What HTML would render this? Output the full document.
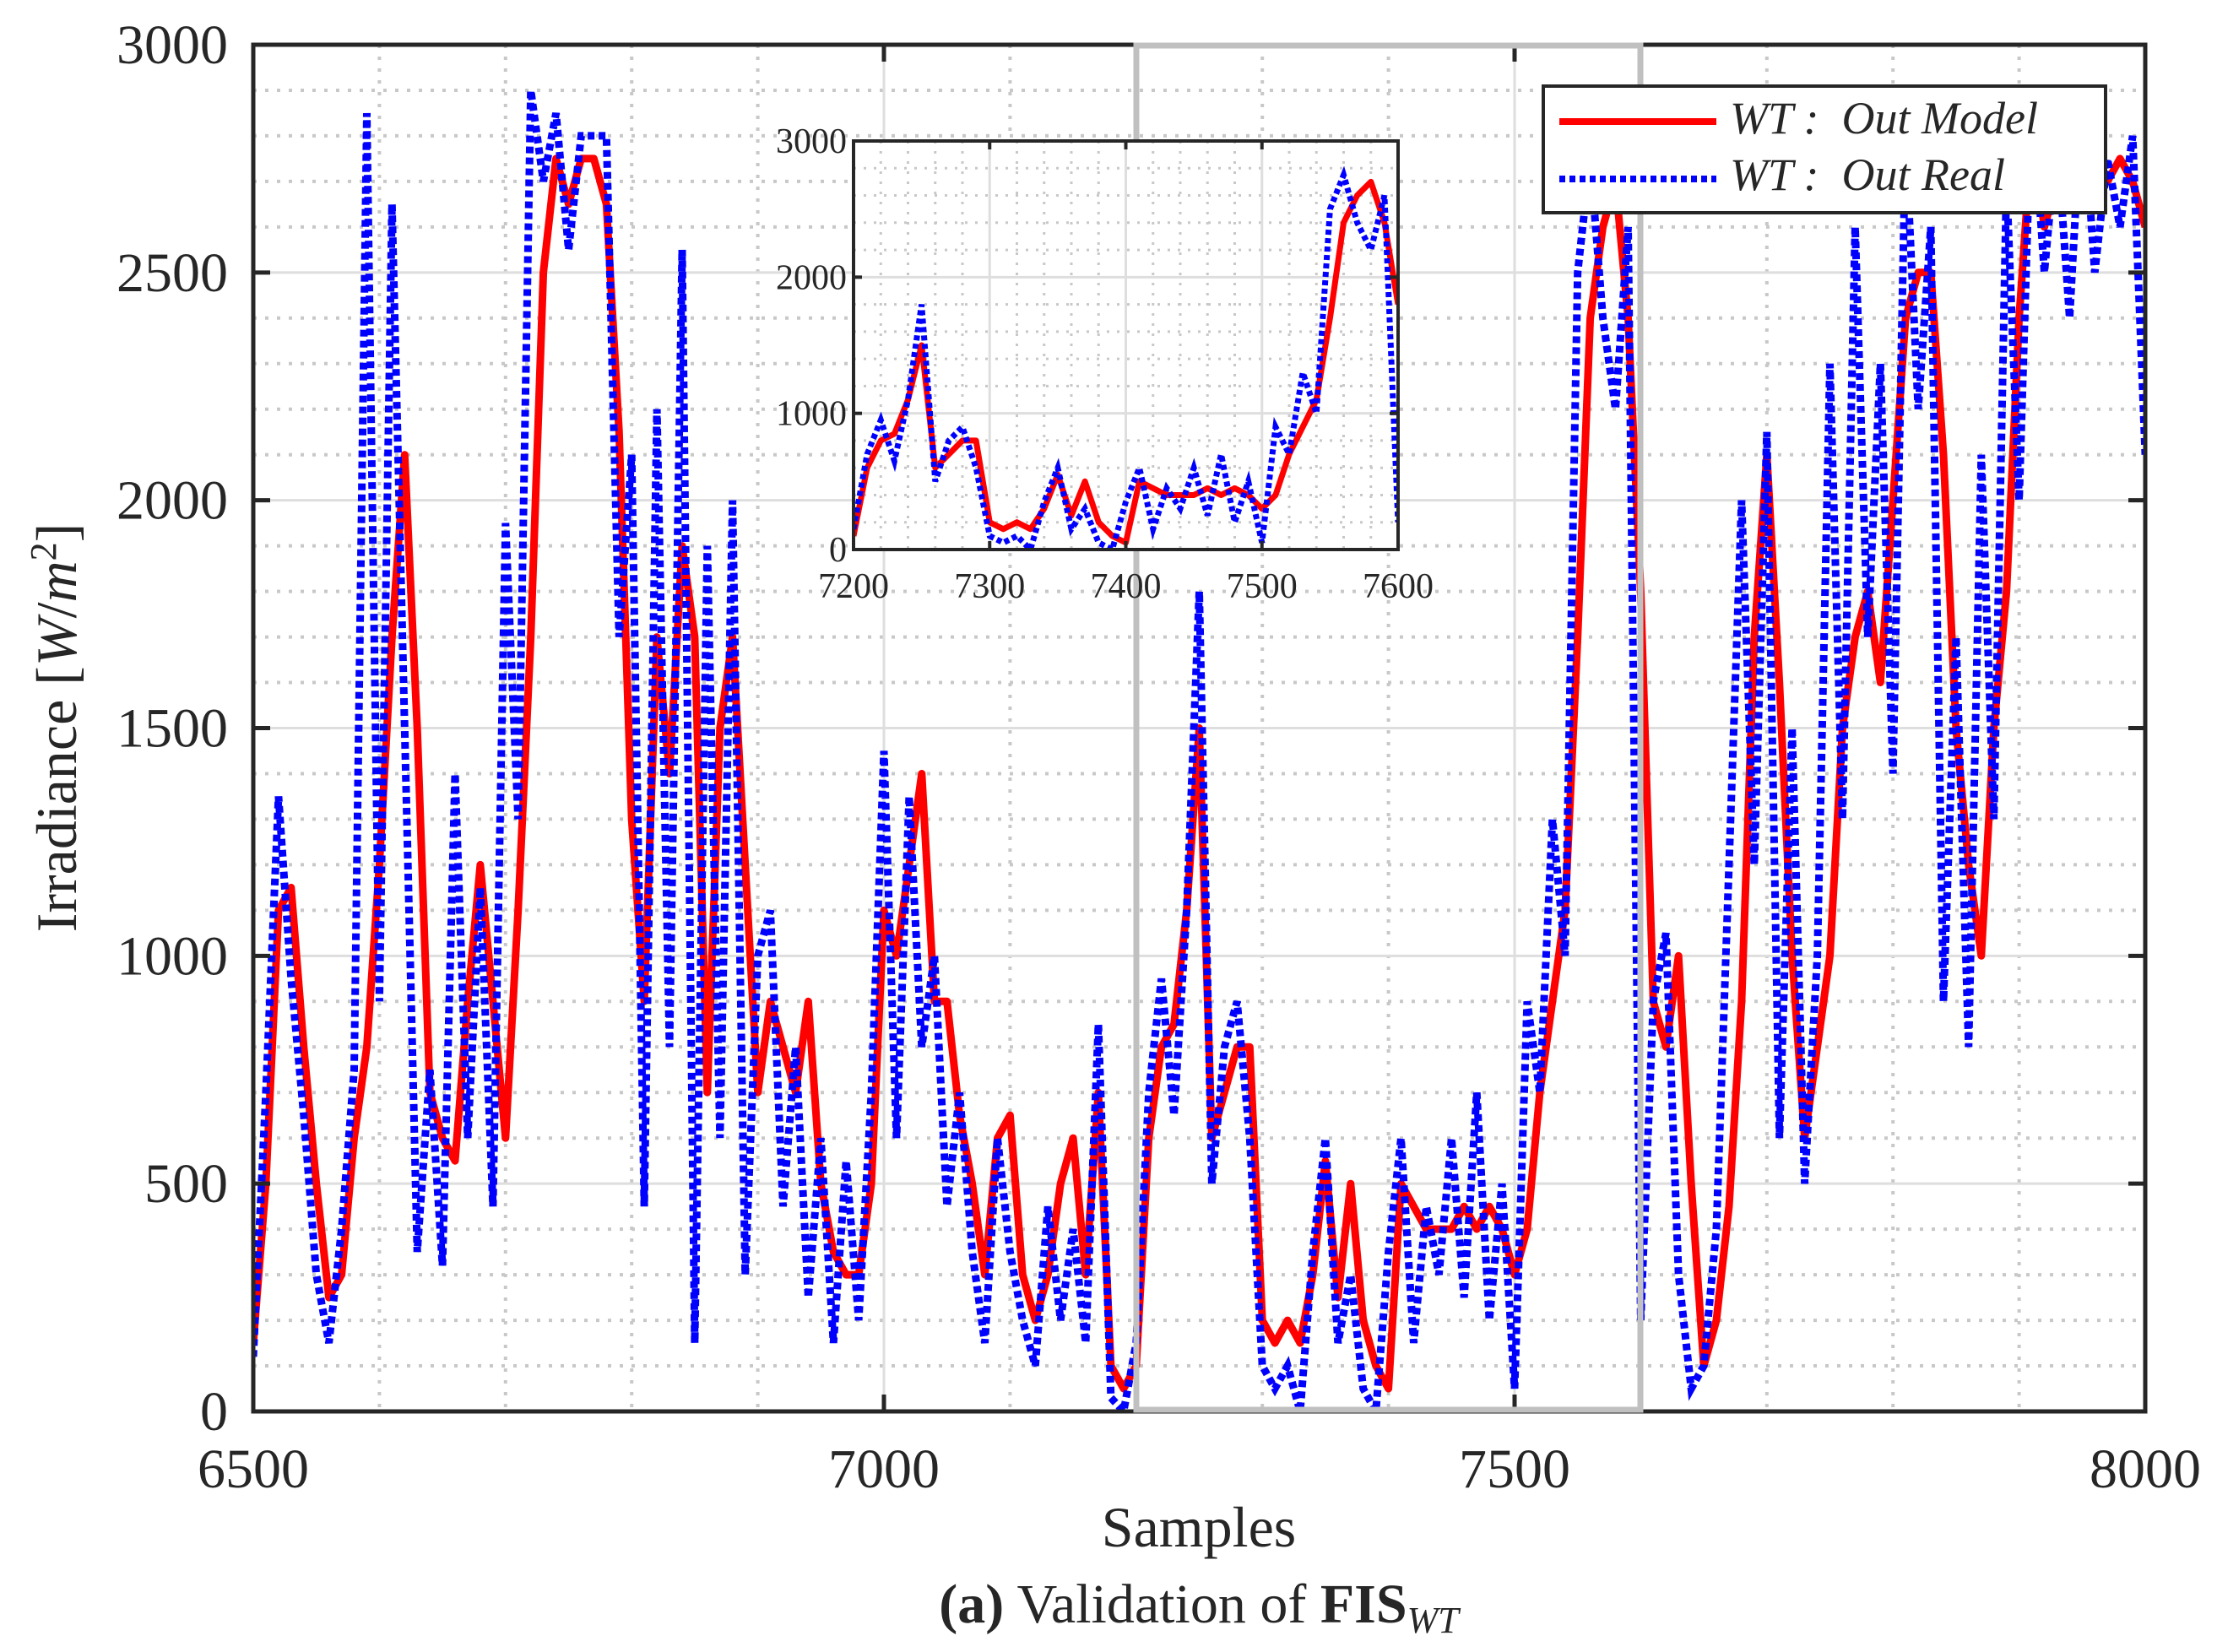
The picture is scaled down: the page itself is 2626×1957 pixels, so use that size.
<!DOCTYPE html>
<html><head><meta charset="utf-8">
<style>
html,body{margin:0;padding:0;background:#fff;}
svg{display:block;}
text{font-family:"Liberation Serif",serif;fill:#262626;}
</style></head>
<body>
<svg id="chart" width="2626" height="1957" viewBox="0 0 2626 1957" xmlns="http://www.w3.org/2000/svg">
<defs>
<clipPath id="mainClip"><rect x="300" y="53" width="2241" height="1619"/></clipPath>
<clipPath id="insetClip"><rect x="1011" y="167" width="645" height="484"/></clipPath>
</defs>
<rect x="0" y="0" width="2626" height="1957" fill="#fff"/>
<g id="main-grid"></g>
<g id="main-series" clip-path="url(#mainClip)"></g>
<g id="main-axes"></g>
<rect x="1346" y="54" width="597" height="1616" fill="none" stroke="#c0c0c0" stroke-width="7"/>
<g id="inset"></g>
<g>
<rect x="1828" y="102" width="666" height="150" fill="#fff" stroke="#262626" stroke-width="4"/>
<line x1="1847" y1="144" x2="2033" y2="144" stroke="#ff0000" stroke-width="8"/>
<line x1="1847" y1="212" x2="2033" y2="212" stroke="#0000ff" stroke-width="8" stroke-dasharray="7,5"/>
<text x="2049" y="158" font-size="54" font-style="italic" fill="#000" xml:space="preserve">WT :  Out Model</text>
<text x="2049" y="225" font-size="54" font-style="italic" fill="#000" xml:space="preserve">WT :  Out Real</text>
</g>
<text transform="translate(90,862) rotate(-90)" text-anchor="middle" font-size="68">Irradiance [<tspan font-style="italic">W</tspan>/<tspan font-style="italic">m</tspan><tspan font-size="44" dy="-24">2</tspan><tspan dy="24">]</tspan></text>
<text x="1420" y="1832" text-anchor="middle" font-size="68">Samples</text>
<text x="1420" y="1922" text-anchor="middle" font-size="66"><tspan font-weight="bold">(a)</tspan> Validation of <tspan font-weight="bold">FIS</tspan><tspan font-style="italic" font-size="44" dy="12">WT</tspan></text>
</svg>
<script>
const samples = [6500,6510,6520,6530,6540,6550,6560,6570,6580,6590,6600,6610,6620,6630,6640,6650,6660,6670,6680,6690,6700,6710,6720,6730,6740,6750,6760,6770,6780,6790,6800,6810,6820,6830,6840,6850,6860,6870,6880,6890,6900,6910,6920,6930,6940,6950,6960,6970,6980,6990,7000,7010,7020,7030,7040,7050,7060,7070,7080,7090,7100,7110,7120,7130,7140,7150,7160,7170,7180,7190,7200,7210,7220,7230,7240,7250,7260,7270,7280,7290,7300,7310,7320,7330,7340,7350,7360,7370,7380,7390,7400,7410,7420,7430,7440,7450,7460,7470,7480,7490,7500,7510,7520,7530,7540,7550,7560,7570,7580,7590,7600,7610,7620,7630,7640,7650,7660,7670,7680,7690,7700,7710,7720,7730,7740,7750,7760,7770,7780,7790,7800,7810,7820,7830,7840,7850,7860,7870,7880,7890,7900,7910,7920,7930,7940,7950,7960,7970,7980,7990,8000];
const modelOut = [150,500,1100,1150,800,500,250,300,600,800,1200,1700,2100,1500,700,600,550,900,1200,900,600,1100,1700,2500,2750,2650,2750,2750,2650,2150,1300,900,1700,1400,1900,1700,700,1500,1700,1200,700,900,800,700,900,500,350,300,300,500,1100,1000,1200,1400,900,900,650,500,300,600,650,300,200,300,500,600,300,700,100,50,100,600,800,850,1100,1500,600,700,800,800,200,150,200,150,300,550,250,500,200,100,50,500,450,400,400,400,450,400,450,400,300,400,700,900,1100,1700,2400,2600,2700,2400,1800,900,800,1000,500,100,200,450,900,1700,2100,1600,1000,600,800,1000,1500,1700,1800,1600,2000,2400,2500,2500,2100,1500,1200,1000,1500,1800,2400,2800,2600,2700,2800,2800,2700,2700,2750,2700,2600,2300];
const realOut = [120,700,1350,950,650,300,150,400,750,2850,900,2650,1500,350,750,320,1400,600,1150,450,1950,1300,2900,2700,2850,2550,2800,2800,2800,1700,2100,450,2200,800,2550,150,1900,600,2000,300,1000,1100,450,800,250,600,150,550,200,700,1450,600,1350,800,1000,450,700,350,150,600,350,200,100,450,200,400,150,850,30,0,150,700,950,650,1100,1800,500,800,900,600,100,50,100,0,350,600,150,300,50,0,350,600,150,450,300,600,250,700,200,500,50,900,700,1300,1000,2500,2750,2400,2200,2600,200,900,1050,300,50,100,400,1200,2000,1200,2150,600,1500,500,1000,2300,1300,2600,1700,2300,1400,2800,2200,2600,900,1700,800,2100,1300,2700,2000,2900,2500,2800,2400,2900,2500,2750,2600,2800,2100];
const yTicks = [0,500,1000,1500,2000,2500,3000];
const xTicks = [6500,7000,7500,8000];
const insetXTicks = [7200,7300,7400,7500,7600];
const insetYTicks = [0,1000,2000,3000];

const NS = "http://www.w3.org/2000/svg";
function mk(tag, attrs, parent){
  const e = document.createElementNS(NS, tag);
  for (const k in attrs) e.setAttribute(k, attrs[k]);
  parent.appendChild(e);
  return e;
}
const M = {l:300, r:2541, t:53, b:1672, x0:6500, x1:8000, y0:0, y1:3000};
const mx = v => M.l + (v - M.x0) / (M.x1 - M.x0) * (M.r - M.l);
const my = v => M.b - (v - M.y0) / (M.y1 - M.y0) * (M.b - M.t);
const I = {l:1011, r:1656, t:167, b:651, x0:7200, x1:7600, y0:0, y1:3000};
const ix = v => I.l + (v - I.x0) / (I.x1 - I.x0) * (I.r - I.l);
const iy = v => I.b - (v - I.y0) / (I.y1 - I.y0) * (I.b - I.t);

const grid = document.getElementById('main-grid');
for (let v = 6600; v < 8000; v += 100) {
  if (v % 500 === 0) continue;
  const g = mk('line', {x1:mx(v), x2:mx(v), y1:M.t, y2:M.b, stroke:'#c8c8c8', 'stroke-width':4, 'stroke-dasharray':'4,10'}, grid);
  
  
}
for (let v = 100; v < 3000; v += 100) {
  if (v % 500 === 0) continue;
  const g = mk('line', {x1:M.l, x2:M.r, y1:my(v), y2:my(v), stroke:'#c8c8c8', 'stroke-width':4, 'stroke-dasharray':'4,10'}, grid);
  
  
}
xTicks.forEach(v => {
  const g = mk('line', {x1:mx(v), x2:mx(v), y1:M.t, y2:M.b, stroke:'#dedede', 'stroke-width':3}, grid);
  
  
});
yTicks.forEach(v => {
  const g = mk('line', {x1:M.l, x2:M.r, y1:my(v), y2:my(v), stroke:'#dedede', 'stroke-width':3}, grid);
  
  
});

function pathFrom(xs, ys, fx, fy, filt){
  let d = '';
  xs.forEach((x, i) => {
    if (filt && !filt(x)) return;
    d += (d ? 'L' : 'M') + fx(x).toFixed(1) + ',' + fy(ys[i]).toFixed(1);
  });
  return d;
}
const ser = document.getElementById('main-series');
const pm = mk('path', {d:pathFrom(samples, modelOut, mx, my), fill:'none', stroke:'#ff0000', 'stroke-width':9, 'stroke-linejoin':'round'}, ser);


const pr = mk('path', {d:pathFrom(samples, realOut, mx, my), fill:'none', stroke:'#0000ff', 'stroke-width':9, 'stroke-dasharray':'8,5'}, ser);



const ax = document.getElementById('main-axes');
const box = mk('rect', {x:M.l, y:M.t, width:M.r-M.l, height:M.b-M.t, fill:'none', stroke:'#262626', 'stroke-width':5}, ax);


yTicks.forEach(v => {
  mk('line', {x1:M.l, x2:M.l+20, y1:my(v), y2:my(v), stroke:'#262626', 'stroke-width':5}, ax);
  mk('line', {x1:M.r-20, x2:M.r, y1:my(v), y2:my(v), stroke:'#262626', 'stroke-width':5}, ax);
  const t = mk('text', {x:270, y:my(v)+22, 'text-anchor':'end', 'font-size':66}, ax);
  t.textContent = v;
  
  
});
xTicks.forEach(v => {
  mk('line', {x1:mx(v), x2:mx(v), y1:M.b, y2:M.b-20, stroke:'#262626', 'stroke-width':5}, ax);
  mk('line', {x1:mx(v), x2:mx(v), y1:M.t, y2:M.t+20, stroke:'#262626', 'stroke-width':5}, ax);
  const t = mk('text', {x:mx(v), y:1762, 'text-anchor':'middle', 'font-size':66}, ax);
  t.textContent = v;
  
  
});

const ins = document.getElementById('inset');
const ibg = mk('rect', {x:I.l, y:I.t, width:I.r-I.l, height:I.b-I.t, fill:'#fff'}, ins);


for (let v = 7220; v < 7600; v += 20) {
  if (v % 100 === 0) continue;
  const g = mk('line', {x1:ix(v), x2:ix(v), y1:I.t, y2:I.b, stroke:'#c8c8c8', 'stroke-width':3, 'stroke-dasharray':'3,9'}, ins);
  
  
}
for (let v = 200; v < 3000; v += 200) {
  if (v % 1000 === 0) continue;
  const g = mk('line', {x1:I.l, x2:I.r, y1:iy(v), y2:iy(v), stroke:'#c8c8c8', 'stroke-width':3, 'stroke-dasharray':'3,9'}, ins);
  
  
}
insetXTicks.forEach(v => {
  const g = mk('line', {x1:ix(v), x2:ix(v), y1:I.t, y2:I.b, stroke:'#dedede', 'stroke-width':3}, ins);
  
  
});
insetYTicks.forEach(v => {
  const g = mk('line', {x1:I.l, x2:I.r, y1:iy(v), y2:iy(v), stroke:'#dedede', 'stroke-width':3}, ins);
  
  
});
const iser = mk('g', {'clip-path':'url(#insetClip)'}, ins);
const inRange = x => x >= 7200 && x <= 7600;
const ipm = mk('path', {d:pathFrom(samples, modelOut, ix, iy, inRange), fill:'none', stroke:'#ff0000', 'stroke-width':7, 'stroke-linejoin':'round'}, iser);


const ipr = mk('path', {d:pathFrom(samples, realOut, ix, iy, inRange), fill:'none', stroke:'#0000ff', 'stroke-width':7, 'stroke-dasharray':'6,4'}, iser);


const ibox = mk('rect', {x:I.l, y:I.t, width:I.r-I.l, height:I.b-I.t, fill:'none', stroke:'#262626', 'stroke-width':4}, ins);


insetYTicks.forEach(v => {
  mk('line', {x1:I.l, x2:I.l+10, y1:iy(v), y2:iy(v), stroke:'#262626', 'stroke-width':4}, ins);
  mk('line', {x1:I.r-10, x2:I.r, y1:iy(v), y2:iy(v), stroke:'#262626', 'stroke-width':4}, ins);
  const t = mk('text', {x:I.l-8, y:iy(v)+14, 'text-anchor':'end', 'font-size':42}, ins);
  t.textContent = v;
  
  
});
insetXTicks.forEach(v => {
  mk('line', {x1:ix(v), x2:ix(v), y1:I.b, y2:I.b-10, stroke:'#262626', 'stroke-width':4}, ins);
  mk('line', {x1:ix(v), x2:ix(v), y1:I.t, y2:I.t+10, stroke:'#262626', 'stroke-width':4}, ins);
  const t = mk('text', {x:ix(v), y:708, 'text-anchor':'middle', 'font-size':42}, ins);
  t.textContent = v;
  
  
});
</script>
</body></html>
